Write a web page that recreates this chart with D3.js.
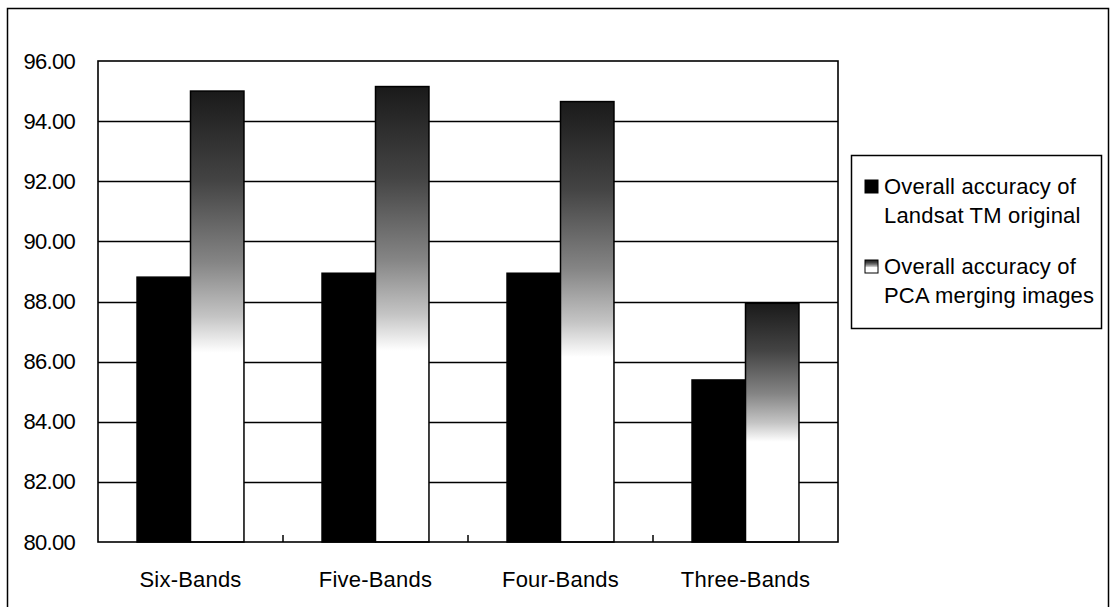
<!DOCTYPE html>
<html>
<head>
<meta charset="utf-8">
<script src="https://cdn.jsdelivr.net/npm/d3@7"></script>
<style>
  html, body { margin: 0; padding: 0; background: #fff; }
  svg { display: block; }
  text { font-family: "Liberation Sans", Arial, sans-serif; fill: #000; }
</style>
</head>
<body>
<svg id="chart" width="1110" height="607"></svg>
<script>
const categories = ["Six-Bands", "Five-Bands", "Four-Bands", "Three-Bands"];
const seriesNames = ["Overall accuracy of Landsat TM original", "Overall accuracy of PCA merging images"];
const originalValues = [88.81, 88.94, 88.94, 85.39];
const pcaValues = [95.00, 95.15, 94.65, 87.94];
const yTicks = [80, 82, 84, 86, 88, 90, 92, 94, 96];
const legendLines = [["Overall accuracy of", "Landsat TM original"], ["Overall accuracy of", "PCA merging images"]];

const svg = d3.select("#chart");
const plot = { left: 98, top: 61, right: 838, bottom: 542 };

// outer border
svg.append("rect").attr("x", 7.5).attr("y", 8.5).attr("width", 1101).attr("height", 600)
  .attr("fill", "#fff").attr("stroke", "#000").attr("stroke-width", 1.5);

const defs = svg.append("defs");
const grad = defs.append("linearGradient").attr("id", "pcaGrad")
  .attr("x1", 0).attr("y1", 0).attr("x2", 0).attr("y2", 1);
grad.append("stop").attr("offset", "0%").attr("stop-color", "#1a1a1a");
grad.append("stop").attr("offset", "20%").attr("stop-color", "#444");
grad.append("stop").attr("offset", "38%").attr("stop-color", "#858585");
grad.append("stop").attr("offset", "50%").attr("stop-color", "#c4c4c4");
grad.append("stop").attr("offset", "58%").attr("stop-color", "#ffffff");
grad.append("stop").attr("offset", "100%").attr("stop-color", "#ffffff");

const y = d3.scaleLinear().domain([80, 96]).range([plot.bottom, plot.top]);
const x0 = d3.scaleBand().domain(categories).range([plot.left, plot.right]).paddingInner(0).paddingOuter(0);
const x1 = d3.scaleBand().domain([0, 1]).range([0, x0.bandwidth()]).paddingInner(0).paddingOuter(0.73);

// gridlines
svg.append("g").selectAll("line").data(yTicks.filter(t => t > 80 && t < 96)).join("line")
  .attr("x1", plot.left).attr("x2", plot.right)
  .attr("y1", d => Math.round(y(d)) + 0.5).attr("y2", d => Math.round(y(d)) + 0.5)
  .attr("stroke", "#000").attr("stroke-width", 1.4);

// bars
const rows = categories.map((c, i) => ({ c, vals: [originalValues[i], pcaValues[i]] }));
const groups = svg.append("g").selectAll("g").data(rows).join("g")
  .attr("transform", d => `translate(${x0(d.c)},0)`);
groups.selectAll("rect").data(d => d.vals.map((v, k) => ({ v, k }))).join("rect")
  .attr("x", d => x1(d.k))
  .attr("y", d => y(d.v))
  .attr("width", x1.bandwidth())
  .attr("height", d => y(80) - y(d.v))
  .attr("fill", d => d.k === 0 ? "#000" : "url(#pcaGrad)")
  .attr("stroke", "#000").attr("stroke-width", 1.5);

// plot border
svg.append("rect").attr("x", plot.left).attr("y", plot.top)
  .attr("width", plot.right - plot.left).attr("height", plot.bottom - plot.top)
  .attr("fill", "none").attr("stroke", "#000").attr("stroke-width", 1.6);

// y axis labels
const yAxis = d3.axisLeft(y).tickValues(yTicks).tickFormat(d3.format(".2f")).tickSize(0).tickPadding(23);
const gy = svg.append("g").attr("transform", `translate(${plot.left},0)`).call(yAxis);
gy.select(".domain").remove();
gy.selectAll("text").attr("font-size", 22).attr("font-family", "Liberation Sans, Arial, sans-serif")
  .attr("letter-spacing", -0.7).attr("fill", "#000");

// x axis
const xAxis = d3.axisBottom(x0).tickSize(0).tickPadding(29);
const gx = svg.append("g").attr("transform", `translate(0,${plot.bottom})`).call(xAxis);
gx.select(".domain").remove();
gx.selectAll("text").attr("font-size", 22).attr("font-family", "Liberation Sans, Arial, sans-serif")
  .attr("letter-spacing", 0.2).attr("fill", "#000");

// inner tick marks at category boundaries
svg.append("g").selectAll("line").data(categories.slice(1)).join("line")
  .attr("x1", d => x0(d)).attr("x2", d => x0(d))
  .attr("y1", plot.bottom).attr("y2", plot.bottom - 7)
  .attr("stroke", "#000").attr("stroke-width", 1.5);

// legend
const lg = svg.append("g");
lg.append("rect").attr("x", 851.5).attr("y", 155.5).attr("width", 250).attr("height", 173)
  .attr("fill", "#fff").attr("stroke", "#000").attr("stroke-width", 1.5);
const items = lg.selectAll("g").data(seriesNames).join("g")
  .attr("transform", (d, i) => `translate(0,${i * 80})`);
items.append("rect").attr("x", 865).attr("y", 180).attr("width", 13).attr("height", 13)
  .attr("fill", (d, i) => i === 0 ? "#000" : "url(#pcaGrad)")
  .attr("stroke", "#000").attr("stroke-width", 1);
items.each(function(d, i) {
  const g = d3.select(this);
  legendLines[i].forEach((t, j) => {
    g.append("text").attr("x", 884).attr("y", 194 + j * 29)
      .attr("font-size", 22).attr("letter-spacing", 0.2).text(t);
  });
});
</script>
</body>
</html>
